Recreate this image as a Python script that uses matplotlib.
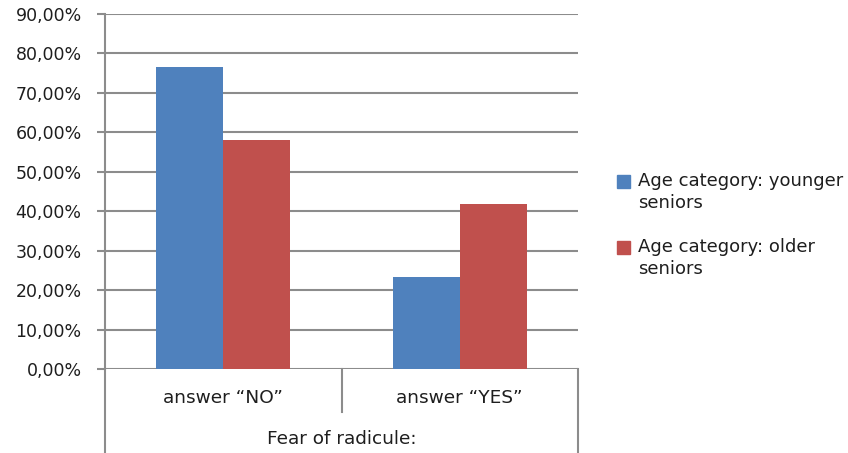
import numpy as np
import matplotlib.pyplot as plt
import matplotlib.ticker
from matplotlib.patches import Rectangle

plt.rcParams['font.family'] = ['DejaVu Sans']

categories = ['answer \u201cNO\u201d', 'answer \u201cYES\u201d']
group_label = 'Fear of radicule:'
series_names = ['Age category: younger\nseniors', 'Age category: older\nseniors']
younger = [76.6, 23.3]
older = [58.1, 41.8]
colors = ['#4F81BD', '#C0504D']
grid_color = '#8C8C8C'
text_color = '#1E1E1E'

fig = plt.figure(figsize=(8.48, 4.53), dpi=100)
ax = fig.add_axes([105/848, 1-369/453, (578-105)/848, (369-14)/453])

x = np.arange(len(categories))
w = 0.283
ax.bar(x - w/2, younger, w, color=colors[0], zorder=3)
ax.bar(x + w/2, older, w, color=colors[1], zorder=3)

ax.set_xlim(-0.5, 1.5)
ax.set_ylim(0, 90)
ax.set_yticks(np.arange(0, 91, 10))
ax.yaxis.set_major_formatter(matplotlib.ticker.FuncFormatter(
    lambda v, p: ('%.2f%%' % v).replace('.', ',')))
ax.tick_params(axis='y', labelsize=12.5, length=5.8, width=1.5, color=grid_color,
               pad=11, labelcolor=text_color)
ax.set_xticks([])
ax.yaxis.grid(True, color=grid_color, linewidth=1.5, zorder=0)
for s in ['top', 'right', 'bottom']:
    ax.spines[s].set_visible(False)
ax.spines['left'].set_color(grid_color)
ax.spines['left'].set_linewidth(1.5)

# category table below axis
lkw = dict(color=grid_color, linewidth=1.5, transform=ax.transAxes, clip_on=False)
ax.plot([0, 0], [0, -0.2366], **lkw)
ax.plot([1, 1], [0, -0.2366], **lkw)
ax.plot([0.5, 0.5], [0, -0.121], **lkw)
for i, c in enumerate(categories):
    ax.text(0.25 + 0.5*i, -0.0817, c, transform=ax.transAxes, ha='center',
            va='center', fontsize=13.3, color=text_color)
ax.text(0.5, -0.198, group_label, transform=ax.transAxes, ha='center', va='center',
        fontsize=13.3, color=text_color)

# legend
for i, (name, col) in enumerate(zip(series_names, colors)):
    top = 175 + i*66
    fig.patches.append(Rectangle((617/848, 1-(top+13)/453), 13/848, 13/453,
                                 transform=fig.transFigure, color=col))
    fig.text(638/848, 1-(top-3)/453, name, ha='left', va='top', fontsize=13,
             color=text_color, linespacing=1.26)

fig.savefig('out.png', dpi=100)
